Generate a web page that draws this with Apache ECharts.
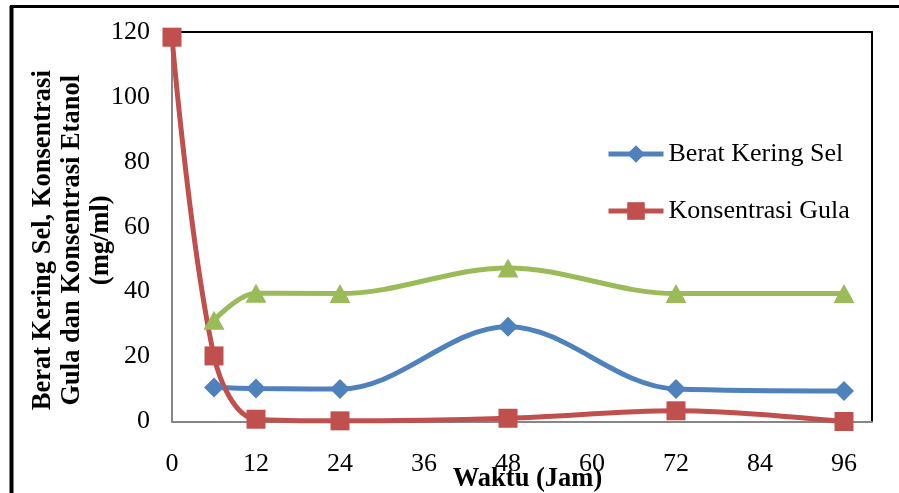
<!DOCTYPE html>
<html>
<head>
<meta charset="utf-8">
<style>
  html, body { margin: 0; padding: 0; background: #fff; }
  #chart { width: 899px; height: 493px; }
</style>
<script src="https://cdn.jsdelivr.net/npm/echarts@6/dist/echarts.min.js"></script>
</head>
<body>
<div id="chart"></div>
<script>
// Sampling times (hours)
const jamSel = [6, 12, 24, 48, 72, 96];
const jamGula = [0, 6, 12, 24, 48, 72, 96];

// Measured values (mg/ml)
const beratKeringSel = [10.5, 10.2, 10.0, 29.2, 10.0, 9.4];
const konsentrasiGula = [118.4, 20.2, 0.7, 0.2, 1.0, 3.3, 0];
const konsentrasiEtanol = [31.2, 39.5, 39.4, 47.3, 39.4, 39.4];

const seriesNames = ['Berat Kering Sel', 'Konsentrasi Gula', 'Konsentrasi Etanol'];
const xTitle = 'Waktu (Jam)';
const yTitle = 'Berat Kering Sel, Konsentrasi\nGula dan Konsentrasi Etanol\n(mg/ml)';

const pair = (xs, ys) => xs.map((x, i) => [x, ys[i]]);

const FONT = '"Liberation Serif", "Times New Roman", serif';
const AXIS_GRAY = '#868686';

const chart = echarts.init(document.getElementById('chart'), null, { renderer: 'canvas' });

const lineSeries = (name, data, color, symbol, size) => ({
  name,
  type: 'line',
  data,
  smooth: 0.35,
  symbol,
  symbolSize: size,
  showSymbol: true,
  lineStyle: { color, width: 5 },
  itemStyle: { color },
  emphasis: { disabled: true },
  animation: false
});

chart.setOption({
  backgroundColor: '#fff',
  animation: false,
  grid: { left: 172, top: 32, right: 27, bottom: 71.5, containLabel: false, outerBoundsMode: 'none' },
  legend: {
    data: [seriesNames[0], seriesNames[1]],
    orient: 'vertical',
    left: 601,
    top: 136,
    itemWidth: 55,
    itemHeight: 22,
    itemGap: 31,
    lineStyle: { width: 5 },
    textStyle: { fontFamily: FONT, fontSize: 26, color: '#000' }
  },
  xAxis: [
    {
      type: 'value',
      min: 0,
      max: 100,
      interval: 12,
      name: xTitle,
      nameLocation: 'middle',
      nameGap: 44,
      nameMoveOverlap: false,
      nameTextStyle: { fontFamily: FONT, fontSize: 26.5, fontWeight: 'bold', color: '#000', padding: [0, 0, 0, 11] },
      axisLine: { show: true, lineStyle: { color: AXIS_GRAY, width: 2 } },
      axisTick: { show: false },
      splitLine: { show: false },
      axisLabel: { fontFamily: FONT, fontSize: 26, color: '#000', margin: 30, showMaxLabel: false }
    },
    {
      type: 'value',
      position: 'top',
      min: 0,
      max: 100,
      axisLine: { show: true, onZero: false, lineStyle: { color: '#000', width: 2 } },
      axisTick: { show: false },
      axisLabel: { show: false },
      splitLine: { show: false }
    }
  ],
  yAxis: [
    {
      type: 'value',
      min: 0,
      max: 120,
      interval: 20,
      name: yTitle,
      nameLocation: 'middle',
      nameRotate: 90,
      nameGap: 56,
      nameMoveOverlap: false,
      nameTextStyle: { fontFamily: FONT, fontSize: 26.5, fontWeight: 'bold', color: '#000', lineHeight: 29, padding: [0, 27, 0, 0] },
      axisLine: { show: true, lineStyle: { color: AXIS_GRAY, width: 2 } },
      axisTick: { show: false },
      splitLine: { show: false },
      axisLabel: { fontFamily: FONT, fontSize: 26, color: '#000', margin: 22 }
    },
    {
      type: 'value',
      position: 'right',
      min: 0,
      max: 120,
      axisLine: { show: true, onZero: false, lineStyle: { color: '#000', width: 2 } },
      axisTick: { show: false },
      axisLabel: { show: false },
      splitLine: { show: false }
    }
  ],
  graphic: [
    // outer frame edges
    { type: 'line', shape: { x1: 11.5, y1: 6, x2: 11.5, y2: 493 }, style: { stroke: '#000', lineWidth: 4 }, silent: true },
    { type: 'line', shape: { x1: 10, y1: 6.5, x2: 899, y2: 6.5 }, style: { stroke: '#000', lineWidth: 3 }, silent: true }
  ],
  series: [
    lineSeries(seriesNames[0], pair(jamSel, beratKeringSel), '#4F81BD', 'diamond', [20, 20]),
    lineSeries(seriesNames[1], pair(jamGula, konsentrasiGula), '#C0504D', 'rect', [19, 19]),
    lineSeries(seriesNames[2], pair(jamSel, konsentrasiEtanol), '#9BBB59', 'triangle', [21, 19])
  ]
});
</script>
</body>
</html>
